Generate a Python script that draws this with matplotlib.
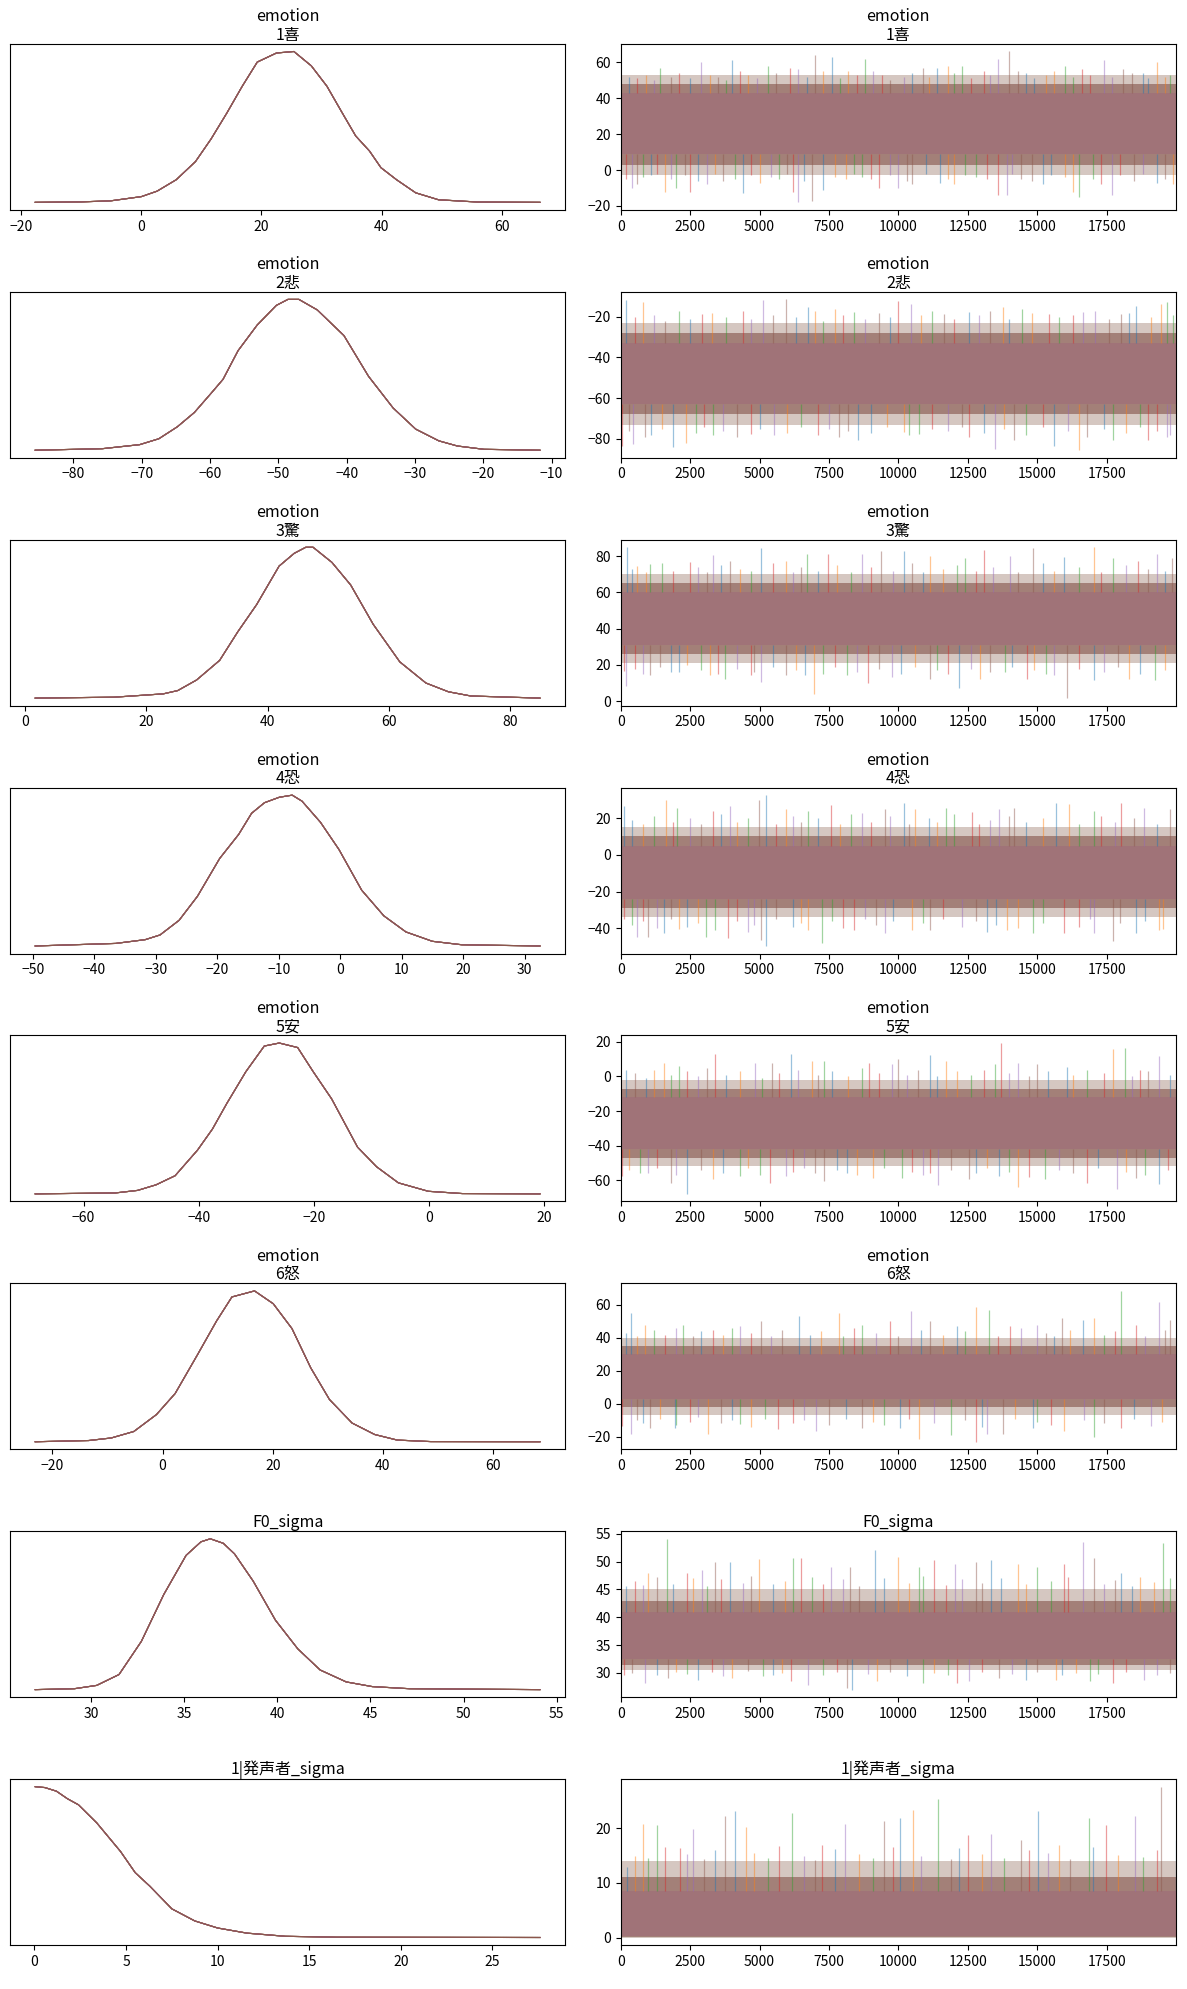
import matplotlib.pyplot as plt
from matplotlib.ticker import MultipleLocator

plt.rcParams['font.family'] = ['Noto Sans CJK JP', 'DejaVu Sans']

## Posterior trace plot (KDE on the left, sampled values on the right)

chain_colors = ['C0', 'C1', 'C2', 'C3', 'C4', 'C5']
core_color = '#a07378'      # what the 6 overlapping chains look like
last_draw = 19999

titles = ['emotion\n1喜', 'emotion\n2悲', 'emotion\n3驚', 'emotion\n4恐',
          'emotion\n5安', 'emotion\n6怒', 'F0_sigma', '1|発声者_sigma']
kde_steps = [20, 10, 20, 10, 20, 20, 5, 5]
trace_steps = [20, 20, 20, 20, 20, 20, 5, 10]

# KDE curves, density relative to the peak
kde_x_emo1 = [-17.7, -10.0, -5.1, 0.0, 2.6, 5.8, 9.0, 11.6, 14.2, 16.8, 19.3, 22.5, 25.4,
              28.3, 30.9, 33.5, 35.7, 38.0, 39.9, 42.5, 45.7, 49.5, 56.0, 66.4]
kde_y_emo1 = [0.0, 0.003, 0.01, 0.038, 0.074, 0.15, 0.27, 0.42, 0.59, 0.77, 0.93, 0.99, 1.0,
              0.905, 0.77, 0.59, 0.44, 0.34, 0.23, 0.15, 0.063, 0.017, 0.002, 0.0]
kde_x_emo2 = [-85.6, -75.8, -70.3, -67.5, -64.8, -62.3, -59.8, -58.1, -55.9, -53.1, -50.3,
              -48.6, -47.0, -44.3, -40.4, -36.8, -33.2, -29.9, -26.5, -23.8, -19.9, -11.7]
kde_y_emo2 = [0.0, 0.01, 0.037, 0.076, 0.155, 0.25, 0.38, 0.47, 0.66, 0.83, 0.96,
              1.0, 1.0, 0.93, 0.76, 0.49, 0.28, 0.14, 0.062, 0.028, 0.006, 0.0]
kde_x_emo3 = [1.7, 14.7, 22.8, 25.2, 28.3, 32.1, 35.1, 38.2, 41.9, 44.4, 46.3, 47.5, 50.6,
              53.7, 57.4, 61.8, 66.1, 69.8, 73.5, 84.9]
kde_y_emo3 = [0.0, 0.006, 0.028, 0.05, 0.12, 0.25, 0.44, 0.62, 0.875, 0.96, 1.0, 1.0, 0.90,
              0.75, 0.49, 0.24, 0.10, 0.042, 0.014, 0.0]
kde_x_emo4 = [-49.6, -36.5, -31.7, -29.3, -26.2, -23.2, -19.6, -16.5, -14.4, -12.3, -9.9,
              -7.8, -6.2, -3.2, -0.2, 3.5, 7.1, 10.7, 15.0, 19.8, 32.5]
kde_y_emo4 = [0.0, 0.017, 0.042, 0.073, 0.17, 0.33, 0.58, 0.74, 0.88, 0.95, 0.986,
              1.0, 0.96, 0.82, 0.64, 0.37, 0.20, 0.093, 0.031, 0.008, 0.0]
kde_x_emo5 = [-68.4, -54.5, -50.6, -47.4, -44.1, -40.2, -37.6, -35.1, -31.8, -28.6, -26.0,
              -22.8, -20.1, -16.9, -12.4, -9.1, -5.3, -0.1, 5.8, 19.3]
kde_y_emo5 = [0.0, 0.006, 0.023, 0.06, 0.12, 0.29, 0.43, 0.60, 0.81, 0.98, 1.0,
              0.97, 0.81, 0.63, 0.31, 0.18, 0.073, 0.017, 0.002, 0.0]
kde_x_emo6 = [-23.1, -13.4, -9.3, -5.2, -1.1, 2.3, 6.4, 9.8, 12.6, 16.7, 20.1, 23.5, 26.9,
              30.3, 34.4, 38.5, 42.6, 48.7, 68.5]
kde_y_emo6 = [0.0, 0.008, 0.025, 0.068, 0.18, 0.32, 0.58, 0.80, 0.96, 1.0, 0.915, 0.75, 0.49,
              0.28, 0.124, 0.048, 0.011, 0.001, 0.0]
kde_x_f0 = [27.0, 29.1, 30.3, 31.5, 32.7, 33.9, 35.1, 35.9, 36.4, 37.1, 37.7, 38.7, 39.9,
            41.1, 42.3, 43.7, 45.1, 47.1, 54.1]
kde_y_f0 = [0.0, 0.006, 0.028, 0.10, 0.32, 0.63, 0.89, 0.98, 1.0, 0.97, 0.90, 0.72, 0.46,
            0.27, 0.13, 0.051, 0.02, 0.006, 0.0]
kde_x_spk = [0.04, 0.57, 1.2, 1.8, 2.4, 3.4, 4.7, 5.5, 6.3, 7.5, 8.75, 10.0, 11.6, 13.7,
             16.5, 27.6]
kde_y_spk = [1.0, 0.994, 0.97, 0.92, 0.88, 0.76, 0.57, 0.43, 0.34, 0.19, 0.11, 0.063, 0.029,
             0.008, 0.002, 0.0]

# trace bands (lo, hi): solid core, dense fringe, sparse fringe
core_emo1, mid_emo1, outer_emo1 = (9, 43), (3, 48), (-3, 53)
core_emo2, mid_emo2, outer_emo2 = (-63, -33), (-68, -28), (-73, -23)
core_emo3, mid_emo3, outer_emo3 = (31, 60), (26, 65), (21, 70)
core_emo4, mid_emo4, outer_emo4 = (-24, 5), (-29, 10), (-34, 15)
core_emo5, mid_emo5, outer_emo5 = (-42, -12), (-47, -7), (-52, -2)
core_emo6, mid_emo6, outer_emo6 = (3, 30), (-2, 35), (-7, 40)
core_f0, mid_f0, outer_f0 = (32.5, 41), (31.5, 43), (30.5, 45)
core_spk, mid_spk, outer_spk = (0.2, 8.5), (0.1, 11), (0.0, 14)

# trace: single excursions (draw, value) above and below the band
up_emo1 = [(300, 52), (900, 53), (1400, 57), (2100, 54), (2900, 60), (3500, 52), (4000, 61),
           (4600, 53), (5300, 58), (6100, 57), (6400, 56), (7000, 64), (7600, 63), (8200, 55),
           (8800, 62), (9400, 53), (10200, 52), (10900, 57), (11400, 57), (11800, 58),
           (12300, 58), (13100, 55), (13600, 62), (14000, 66), (14600, 54), (15300, 53),
           (16000, 58), (16600, 56), (17400, 61), (18100, 56), (18800, 54), (19300, 60),
           (19800, 53), (600, 51), (1200, 50), (1800, 52), (2500, 51), (3200, 53), (3800, 50),
           (4300, 55), (4900, 51), (5600, 54), (6700, 52), (7300, 55), (7900, 51), (8500, 53),
           (9100, 55), (9700, 50), (10500, 54), (11100, 52), (12000, 54), (12600, 51),
           (13300, 53), (14300, 55), (14900, 51), (15600, 55), (16300, 52), (16900, 53),
           (17700, 52), (18400, 54), (19000, 51), (19600, 52)]
down_emo1 = [(200, -5), (400, -10), (600, -8), (1100, -3), (1600, -12), (2000, -10),
             (2500, -12), (3100, -8), (3700, -6), (4400, -13), (5000, -7), (5700, -5),
             (6200, -12), (6400, -18), (6900, -17), (7300, -11), (8100, -5), (8700, -4),
             (9300, -10), (10000, -10), (10500, -8), (11500, -7), (12000, -8), (12800, -4),
             (13600, -14), (13900, -14), (14400, -5), (15200, -8), (16300, -12), (16500, -15),
             (17300, -8), (17700, -14), (18500, -6), (19300, -7), (19900, -8), (800, -4),
             (1300, -2), (1800, -5), (2300, -3), (2800, -6), (3400, -2), (4100, -5), (4700, -3),
             (5400, -4), (6000, -2), (6600, -6), (7700, -4), (8400, -2), (9000, -5), (9700, -3),
             (10300, -6), (11000, -2), (11800, -5), (12400, -3), (13200, -5), (14100, -2),
             (14800, -6), (15500, -3), (16000, -4), (17000, -5), (18000, -3), (18800, -2),
             (19600, -5)]
up_emo2 = [(180, -12), (820, -13), (2100, -17), (2920, -18.5), (5120, -12), (5940, -11.5),
           (6760, -15), (7720, -16), (8410, -17.7), (9990, -12.2), (10470, -13.8),
           (11630, -18.5), (12530, -17.5), (13760, -15.3), (14450, -16), (15410, -18.5),
           (16640, -17.5), (18010, -18.5), (18560, -14.6), (19450, -13.8), (19660, -13),
           (500, -20), (1200, -19), (1600, -22), (2500, -21), (3300, -18), (3800, -20),
           (4400, -17), (4700, -21), (5500, -19), (6300, -20), (7000, -17), (7300, -22),
           (8000, -19), (8800, -21), (9300, -18), (9700, -20), (10800, -19), (11200, -17),
           (12000, -21), (12900, -19), (13300, -17), (14000, -21), (14800, -18), (15800, -20),
           (16300, -19), (17100, -17), (17600, -21), (18300, -18), (19100, -20), (19900, -19)]
down_emo2 = [(40, -83.5), (450, -82.5), (860, -79), (1870, -83.8), (2350, -82), (3330, -78.3),
             (4700, -77.5), (5530, -78), (7860, -79), (8550, -80.6), (10190, -76.7),
             (10740, -77.5), (12530, -79), (13490, -85), (14170, -80.6), (15610, -83.5),
             (16500, -85.6), (17740, -80.6), (18980, -80.6), (19660, -79), (300, -76),
             (1100, -78), (1500, -75), (2700, -77), (3000, -74), (3700, -76), (4200, -79),
             (5000, -75), (6000, -77), (6500, -74), (7100, -78), (7500, -75), (8200, -76),
             (9000, -77), (9600, -74), (10400, -78), (11200, -75), (11800, -76), (12300, -74),
             (13100, -77), (13800, -75), (14600, -78), (15200, -74), (16100, -76), (16800, -79),
             (17400, -75), (18200, -77), (18700, -74), (19300, -76), (19800, -78)]
up_emo3 = [(220, 84.9), (590, 74.7), (1070, 75.5), (2510, 76.5), (3330, 80.9), (3950, 77.4),
           (5050, 84.4), (5940, 77.4), (6700, 81.2), (7450, 81.2), (8680, 81.2), (9370, 82.6),
           (10190, 83), (11150, 80), (12390, 79), (13070, 83.5), (14030, 80), (14860, 84.4),
           (15960, 79.5), (17050, 84.9), (17740, 79), (18630, 77.4), (19320, 81.2),
           (19870, 79), (400, 73), (900, 71), (1500, 76), (1900, 72), (2800, 74), (3100, 71),
           (3600, 75), (4300, 73), (4700, 72), (5500, 76), (6200, 71), (6500, 74), (7100, 72),
           (7800, 75), (8300, 71), (9000, 74), (9800, 72), (10500, 76), (10900, 71),
           (11600, 73), (12100, 75), (12800, 72), (13400, 74), (14300, 71), (15200, 76),
           (15600, 72), (16500, 74), (17300, 71), (18200, 75), (19000, 73), (19600, 72)]
down_emo3 = [(110, 16.8), (200, 8.1), (1070, 14.2), (2100, 16), (3200, 14.2), (3770, 12.5),
             (4710, 14.2), (5050, 10.7), (5940, 14.2), (6630, 14.2), (6970, 3.7), (8140, 14.2),
             (8890, 9.8), (9780, 13.3), (11150, 12.5), (12180, 7.2), (12940, 12.5),
             (13830, 16), (14650, 12.5), (15610, 14.2), (16090, 1.7), (17050, 11.6),
             (18290, 12.5), (19250, 11.6), (500, 18), (800, 15), (1400, 19), (1800, 16),
             (2400, 20), (2900, 17), (3500, 15), (4200, 18), (4800, 16), (5500, 19), (6300, 17),
             (7300, 15), (7700, 19), (8500, 16), (9300, 18), (10100, 15), (10600, 19),
             (11400, 17), (11800, 15), (12600, 18), (13300, 16), (14100, 19), (14900, 17),
             (15300, 15), (16500, 18), (17400, 16), (17900, 19), (18700, 15), (19600, 17)]
up_emo4 = [(110, 26.5), (1620, 30), (2030, 25.6), (3330, 23.9), (3950, 26.5), (4980, 30),
           (5250, 32.5), (5940, 24.7), (6760, 23.9), (7590, 27.3), (8680, 23), (9510, 24.7),
           (10190, 28), (10610, 24.7), (11700, 25.6), (12660, 23.2), (13620, 24.7),
           (14170, 25.6), (15680, 28), (16160, 27.5), (17050, 23.9), (18010, 28),
           (18840, 25.6), (19800, 24.7), (400, 19), (800, 17), (1200, 21), (1900, 18),
           (2500, 20), (2900, 17), (3600, 22), (4200, 18), (4600, 20), (5600, 17), (6200, 21),
           (6500, 18), (7100, 20), (7900, 17), (8300, 22), (9000, 18), (9700, 21), (10400, 17),
           (11100, 20), (11400, 18), (12000, 22), (12900, 17), (13300, 19), (14000, 21),
           (14600, 18), (15200, 20), (16500, 17), (17300, 21), (17800, 18), (18500, 20),
           (19300, 17)]
down_emo4 = [(110, -35), (590, -44.5), (1000, -44.5), (1550, -42.8), (2100, -40.1),
             (3060, -44.5), (3880, -45.3), (4570, -41.9), (5050, -46.5), (5250, -49.6),
             (6760, -41), (7240, -48), (8410, -41), (9510, -42.8), (11150, -41),
             (13210, -41.9), (13900, -41), (14860, -42.8), (15960, -42.8), (17050, -42.8),
             (17740, -47), (18560, -42.8), (19520, -40.1), (400, -38), (800, -36), (1300, -40),
             (1800, -35), (2400, -39), (2800, -37), (3400, -41), (4200, -36), (4800, -38),
             (5600, -35), (6200, -39), (6500, -37), (7600, -36), (8000, -40), (8800, -35),
             (9200, -38), (9800, -36), (10500, -41), (10900, -37), (11600, -35), (12300, -39),
             (12800, -36), (13500, -38), (14300, -40), (15200, -37), (16500, -39), (16900, -35),
             (18000, -37), (18900, -36), (19400, -41)]
up_emo5 = [(180, 3.5), (1550, 8), (2100, 6.3), (3400, 12.8), (4840, 8), (5460, 8),
           (6150, 12.8), (6900, 9.1), (7310, 9.1), (8960, 8), (9780, 7.2), (9990, 10),
           (11150, 12.4), (11700, 9.1), (13490, 7.2), (13690, 19.3), (14310, 8), (15000, 7.2),
           (16090, 5.4), (17740, 15.6), (18150, 16.5), (18700, 3.5), (19390, 11.9), (500, 2),
           (900, -1), (1200, 4), (1800, 1), (2400, 3), (2800, 0), (3100, 5), (3800, 1),
           (4300, 3), (5100, -1), (5700, 2), (6400, 4), (7100, 1), (7600, 3), (8200, 0),
           (8700, 5), (9300, 2), (10300, 1), (10700, 4), (11400, 0), (12100, 3), (12600, 1),
           (13100, 4), (14000, 2), (14700, 0), (15400, 3), (16300, 1), (16800, 4), (17400, 2),
           (18400, 0), (19000, 3), (19800, 1)]
down_emo5 = [(40, -57.6), (1000, -55.7), (1820, -61.3), (2370, -67.8), (3330, -59.4),
             (4290, -57.6), (5390, -61.3), (5940, -57.6), (7310, -60.4), (8140, -55.7),
             (9100, -58.5), (10120, -58.5), (11150, -55.7), (11430, -62.6), (12530, -59.4),
             (13620, -57.6), (14310, -64), (15270, -59.4), (16780, -61.3), (17880, -65),
             (18560, -58.5), (19390, -62.2), (300, -54), (700, -56), (1300, -53), (2000, -57),
             (2900, -54), (3700, -56), (4600, -53), (5000, -57), (6200, -55), (6600, -53),
             (7000, -56), (7800, -54), (8500, -57), (9500, -53), (10500, -55), (10900, -57),
             (11900, -54), (12800, -56), (13200, -53), (14000, -55), (14700, -58), (15800, -54),
             (16300, -56), (17200, -53), (18200, -55), (18900, -57), (19700, -54)]
up_emo6 = [(380, 55), (860, 48), (2240, 48), (3330, 45), (4290, 47), (5050, 50), (6420, 53),
           (7860, 55), (8680, 48), (9710, 50), (10470, 56), (11150, 50), (12120, 47),
           (12800, 58.8), (13280, 56.8), (14030, 47), (15000, 48), (15890, 52), (16640, 51),
           (17050, 52), (18010, 68.5), (18560, 48), (19390, 61.7), (19800, 51), (200, 43),
           (600, 41), (1200, 45), (1600, 42), (2000, 46), (2600, 41), (2900, 44), (3700, 42),
           (4000, 46), (4700, 43), (5400, 41), (5800, 45), (6800, 42), (7200, 44), (8000, 41),
           (8400, 46), (9200, 43), (10000, 41), (10800, 45), (11600, 42), (12400, 44),
           (13600, 41), (14400, 46), (15300, 43), (15600, 41), (16200, 45), (17400, 42),
           (17800, 44), (18900, 41), (19600, 45)]
down_emo6 = [(40, -13.5), (380, -18.3), (1070, -14.5), (1960, -14.5), (3130, -18.3),
             (4290, -12.5), (5670, -15.4), (7040, -16.4), (8680, -14.5), (10060, -14.5),
             (10740, -21.2), (11910, -19.3), (12800, -23.1), (13210, -18.3), (13760, -18.3),
             (14860, -14.5), (15960, -16.4), (17050, -20.2), (18010, -14.5), (19110, -13.5),
             (600, -10), (800, -12), (1400, -9), (2000, -13), (2500, -11), (2800, -8),
             (3600, -12), (4000, -10), (4700, -14), (5200, -9), (6200, -12), (6600, -10),
             (7500, -13), (8100, -9), (9100, -11), (9500, -13), (10400, -9), (11300, -12),
             (12400, -10), (13000, -14), (14200, -9), (15000, -11), (15500, -13), (16700, -10),
             (17400, -12), (18500, -9), (19500, -11)]
up_f0 = [(180, 45.6), (1000, 47.9), (1650, 54.1), (2370, 47.9), (2920, 48.5), (3400, 49.9),
         (3950, 50), (4980, 50.5), (6220, 50.7), (6490, 50.7), (7590, 49), (8270, 49),
         (9160, 52), (9990, 50.9), (10740, 49), (11290, 50.2), (12050, 49.6), (12800, 49.9),
         (13350, 50.2), (14310, 49.5), (15000, 49), (15960, 49.6), (16640, 53.6),
         (17050, 50.7), (18010, 47.9), (18700, 47.3), (19520, 53.3), (500, 46.5), (800, 45.8),
         (1300, 47.3), (1900, 46), (2600, 47), (3100, 45.7), (3600, 46.8), (4400, 46.2),
         (4700, 47.5), (5500, 45.9), (5900, 46.6), (6900, 47.2), (7300, 46), (8000, 46.8),
         (8600, 45.6), (9500, 47), (10400, 46.1), (10900, 47.4), (11700, 45.8), (12300, 46.9),
         (13000, 46.2), (13700, 47.1), (14600, 45.9), (15500, 46.5), (16100, 47.3),
         (17400, 46), (17800, 46.7), (18400, 45.7), (19200, 46.4), (19800, 47)]
down_f0 = [(110, 29.6), (860, 28.2), (1690, 29.1), (2790, 28.7), (4020, 29.1), (5120, 29.4),
           (6150, 28.5), (6760, 27.9), (8140, 27.3), (8340, 27.0), (9230, 28.5), (10880, 28.2),
           (12120, 28.2), (12530, 28.5), (13620, 29.1), (14580, 28.8), (15680, 28.8),
           (16920, 28.6), (17740, 28.2), (18840, 28.8), (400, 30), (1300, 29.6), (2000, 30.2),
           (2400, 29.8), (3300, 30.1), (3700, 29.5), (4600, 30.3), (5500, 29.7), (5800, 30),
           (7300, 29.6), (7800, 30.2), (8900, 29.8), (9700, 30.1), (10300, 29.5), (11300, 30),
           (11800, 29.7), (13000, 30.2), (14100, 29.8), (15000, 30.1), (15900, 29.6),
           (16400, 30), (17200, 29.8), (18200, 30.2), (19300, 29.7), (19800, 30)]
up_spk = [(220, 12.9), (820, 20.8), (1310, 20.5), (2130, 16.4), (2620, 19.9), (3770, 22.2),
          (4100, 23.1), (4530, 20.2), (6170, 22.8), (7260, 16.9), (8080, 20.8), (9500, 21.3),
          (10050, 21.9), (10540, 23.4), (11410, 25.4), (12500, 18.7), (13320, 19),
          (14410, 17.8), (15040, 23.1), (15780, 16.9), (16870, 21.9), (17470, 20.5),
          (18510, 22.2), (19460, 27.6), (19990, 17.8), (500, 15), (1000, 14.5), (1600, 16.5),
          (2400, 15.2), (3000, 14.3), (3400, 16), (4800, 15.5), (5300, 14.6), (5700, 16.8),
          (6600, 15), (7000, 14.2), (7700, 16.2), (8600, 15.3), (9100, 14.5), (9800, 16.5),
          (10800, 15), (11900, 14.4), (12200, 16.3), (13000, 15.2), (13800, 14.6),
          (14700, 16), (15400, 15.4), (16200, 14.3), (17000, 16.6), (17900, 15.1),
          (18800, 14.7), (19300, 16)]
down_spk = []

kde_x = [kde_x_emo1, kde_x_emo2, kde_x_emo3, kde_x_emo4, kde_x_emo5, kde_x_emo6, kde_x_f0, kde_x_spk]
kde_y = [kde_y_emo1, kde_y_emo2, kde_y_emo3, kde_y_emo4, kde_y_emo5, kde_y_emo6, kde_y_f0, kde_y_spk]
cores = [core_emo1, core_emo2, core_emo3, core_emo4, core_emo5, core_emo6, core_f0, core_spk]
mids = [mid_emo1, mid_emo2, mid_emo3, mid_emo4, mid_emo5, mid_emo6, mid_f0, mid_spk]
outers = [outer_emo1, outer_emo2, outer_emo3, outer_emo4, outer_emo5, outer_emo6,
          outer_f0, outer_spk]
ups = [up_emo1, up_emo2, up_emo3, up_emo4, up_emo5, up_emo6, up_f0, up_spk]
downs = [down_emo1, down_emo2, down_emo3, down_emo4, down_emo5, down_emo6, down_f0, down_spk]

fig, axes = plt.subplots(8, 2, figsize=(11.87, 19.89), dpi=100)
fig.subplots_adjust(left=0.0084, right=0.9907, top=0.9779, bottom=0.0221,
                    wspace=0.1, hspace=0.494)

for row in range(8):
    ax_kde, ax_tr = axes[row]

    # left: one KDE per chain, all chains overlap so the last (brown) shows
    for c in chain_colors:
        ax_kde.plot(kde_x[row], kde_y[row], color=c, lw=0.8)
    ax_kde.set_yticks([])
    ax_kde.xaxis.set_major_locator(MultipleLocator(kde_steps[row]))

    # right: sampled values per chain
    span = [0, last_draw]
    c_lo, c_hi = cores[row]
    for band, a in ((outers[row], 0.07), (mids[row], 0.18)):
        for c in chain_colors:
            ax_tr.fill_between(span, [band[0]] * 2, [band[1]] * 2, color=c, alpha=a, lw=0)
    for i, (d, v) in enumerate(ups[row]):
        ax_tr.vlines(d, c_hi, v, color=chain_colors[i % 6], alpha=0.45, lw=0.9)
    for i, (d, v) in enumerate(downs[row]):
        ax_tr.vlines(d, v, c_lo, color=chain_colors[(i + 3) % 6], alpha=0.45, lw=0.9)
    ax_tr.fill_between(span, [c_lo] * 2, [c_hi] * 2, color=core_color, lw=0)
    ax_tr.set_xlim(0, last_draw)
    ax_tr.xaxis.set_major_locator(MultipleLocator(2500))
    ax_tr.yaxis.set_major_locator(MultipleLocator(trace_steps[row]))

    for ax in (ax_kde, ax_tr):
        ax.set_title(titles[row], fontsize=11.5, pad=3, linespacing=1.1)
        ax.tick_params(labelsize=10)

fig.savefig('out.png', dpi=100)
